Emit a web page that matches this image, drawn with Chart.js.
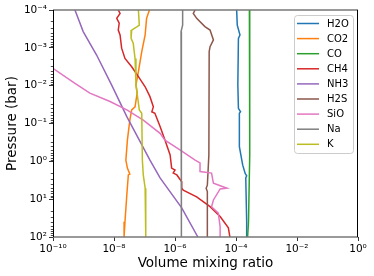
<!DOCTYPE html>
<html>
<head>
<meta charset="utf-8">
<script src="https://cdn.jsdelivr.net/npm/chart.js@4/dist/chart.umd.min.js"></script>
<style>
html,body{margin:0;padding:0;background:#fff;}
#wrap{width:374px;height:276px;position:relative;}
</style>
</head>
<body>
<div id="wrap"><canvas id="c" width="374" height="276"></canvas></div>
<script>
// ---- Data (pressure in bar, volume mixing ratio) ----
const speciesNames = ["H2O","CO2","CO","CH4","NH3","H2S","SiO","Na","K"];
const speciesColors = ["#1f77b4","#ff7f0e","#2ca02c","#d62728","#9467bd","#8c564b","#e377c2","#7f7f7f","#bcbd22"];

const h2oP = [1e-4,2.51e-4,4.57e-4,5.62e-4,9.55e-3,3.98e-2,4.90e-2,5.37e-2,0.407,0.933,1.26,2.09,2.40,2.75,39.8,100];
const h2oX = [1.05e-4,1.10e-4,1.35e-4,1.20e-4,1.15e-4,1.20e-4,1.41e-4,1.29e-4,1.29e-4,1.55e-4,1.66e-4,2.00e-4,2.24e-4,2.09e-4,2.24e-4,2.24e-4];

const co2P = [1e-4,1.66e-4,4.57e-4,1.26e-3,4.27e-3,9.55e-3,1.55e-2,3.63e-2,4.37e-2,8.13e-2,0.275,0.933,1.51,2.19,2.29,7.76,39.8,100];
const co2X = [1.45e-7,1.17e-7,1.05e-7,8.13e-8,6.31e-8,5.25e-8,5.75e-8,4.90e-8,3.80e-8,3.31e-8,2.75e-8,2.45e-8,2.75e-8,3.31e-8,2.95e-8,2.63e-8,2.29e-8,2.14e-8];

const coP = [1e-4,0.676,39.8,100];
const coX = [2.75e-4,2.82e-4,2.57e-4,2.40e-4];

const ch4P = [1e-4,1.23e-4,1.66e-4,2.24e-4,3.39e-4,4.57e-4,1.02e-3,1.91e-3,3.16e-3,5.75e-3,1.07e-2,1.95e-2,3.63e-2,4.90e-2,5.37e-2,0.120,0.275,0.676,1.51,1.70,2.04,2.29,3.47,5.13,5.75,8.71,15.8,28.8,57.5,100];
const ch4X = [1.38e-8,1.58e-8,1.23e-8,1.48e-8,1.38e-8,1.58e-8,1.78e-8,2.29e-8,3.80e-8,6.31e-8,1.05e-7,1.51e-7,1.95e-7,1.74e-7,2.19e-7,3.24e-7,4.68e-7,6.92e-7,7.76e-7,1.00e-6,8.71e-7,1.15e-6,1.66e-6,1.66e-6,1.86e-6,5.13e-6,1.41e-5,3.02e-5,5.62e-5,6.31e-5];

const nh3P = [1e-4,3.72e-4,1.55e-3,9.55e-3,6.61e-2,0.933,2.75,17.0,100];
const nh3X = [5.25e-10,9.77e-10,2.69e-9,8.32e-9,2.63e-8,1.51e-7,3.24e-7,1.66e-6,5.62e-6];

const h2sP = [1e-4,1.23e-4,1.66e-4,2.75e-4,3.39e-4,6.17e-4,9.33e-4,1.26e-3,0.676,4.27,5.13,6.31,100];
const h2sX = [4.57e-6,3.98e-6,5.13e-6,9.55e-6,1.41e-5,1.82e-5,1.41e-5,1.32e-5,1.29e-5,1.15e-5,1.05e-5,1.15e-5,1.15e-5];

const sioP = [3.2e-3,8.71e-3,1.58e-2,2.63e-2,4.37e-2,8.13e-2,0.182,0.275,0.501,0.933,1.10,1.86,2.04,3.80,5.13,5.37,10.5,15.8,23.4,53.7,100];
const sioX = [8.5e-11,5.25e-10,1.62e-9,7.41e-9,2.63e-8,9.12e-8,3.24e-7,4.68e-7,1.45e-6,4.57e-6,6.61e-6,6.61e-6,1.58e-5,1.82e-5,5.01e-5,3.02e-5,1.82e-5,1.58e-5,2.63e-5,3.02e-5,3.02e-5];

const naP = [1e-4,2.51e-4,3.72e-4,100];
const naX = [1.78e-6,1.78e-6,1.58e-6,1.62e-6];

const kP = [1e-4,2.51e-4,2.75e-4,3.39e-4,5.62e-4,7.59e-4,1.91e-3,9.55e-3,4.37e-2,5.37e-2,0.933,2.29,5.13,100];
const kX = [6.31e-8,6.76e-8,5.75e-8,3.80e-8,3.63e-8,4.27e-8,4.90e-8,5.25e-8,6.76e-8,8.13e-8,8.51e-8,9.12e-8,1.05e-7,1.10e-7];

const xTicks = [1e-10,1e-8,1e-6,1e-4,1e-2,1];
const xTickLabels = ["10\u207B\u00B9\u2070","10\u207B\u2078","10\u207B\u2076","10\u207B\u2074","10\u207B\u00B2","10\u2070"];
const yTicks = [1e-4,1e-3,1e-2,1e-1,1,10,100];
const yTickLabels = ["10\u207B\u2074","10\u207B\u00B3","10\u207B\u00B2","10\u207B\u00B9","10\u2070","10\u00B9","10\u00B2"];

const seriesP = [h2oP,co2P,coP,ch4P,nh3P,h2sP,sioP,naP,kP];
const seriesX = [h2oX,co2X,coX,ch4X,nh3X,h2sX,sioX,naX,kX];

const FONT = "'DejaVu Sans', sans-serif";

const datasets = speciesNames.map((name,i)=>({
  label: name,
  data: seriesP[i].map((p,j)=>({x: seriesX[i][j], y: p})),
  borderColor: speciesColors[i],
  backgroundColor: speciesColors[i],
  borderWidth: 1.5,
  pointRadius: 0,
  showLine: true,
  tension: 0,
  order: speciesNames.length - i
}));

const framePlugin = {
  id: 'frame',
  afterDatasetsDraw(chart){
    const {ctx, chartArea:a} = chart;
    const ys = chart.scales.y;
    ctx.save();
    // minor ticks on y axis
    ctx.strokeStyle = '#000';
    ctx.lineWidth = 0.7;
    for (let k=0;k<yTicks.length-1;k++){
      for (let m=2;m<=9;m++){
        const py = Math.round(ys.getPixelForValue(yTicks[k]*m))+0.5;
        ctx.beginPath(); ctx.moveTo(a.left-2.2, py); ctx.lineTo(a.left, py); ctx.stroke();
      }
    }
    // spines
    ctx.strokeStyle = '#777';
    ctx.lineWidth = 1.6;
    ctx.beginPath(); ctx.moveTo(a.left, a.top); ctx.lineTo(a.right, a.top); ctx.stroke();
    ctx.beginPath(); ctx.moveTo(a.left, a.bottom); ctx.lineTo(a.right, a.bottom); ctx.stroke();
    ctx.strokeStyle = '#000';
    ctx.lineWidth = 1;
    ctx.beginPath(); ctx.moveTo(a.left+0.5, a.top); ctx.lineTo(a.left+0.5, a.bottom); ctx.stroke();
    ctx.beginPath(); ctx.moveTo(a.right-0.5, a.top); ctx.lineTo(a.right-0.5, a.bottom); ctx.stroke();
    // legend
    const w = 59, h = 138;
    const bx = a.right - 5 - w, by = a.top + 5;
    ctx.fillStyle = 'rgba(255,255,255,0.85)';
    ctx.strokeStyle = '#cccccc';
    ctx.lineWidth = 1;
    ctx.beginPath();
    ctx.roundRect(bx+0.5, by+0.5, w, h, 3);
    ctx.fill(); ctx.stroke();
    ctx.font = "10px " + FONT;
    ctx.textBaseline = 'middle';
    ctx.textAlign = 'left';
    chart.data.datasets.forEach((ds,i)=>{
      const yy = by + 8.5 + i*15.1;
      ctx.strokeStyle = ds.borderColor;
      ctx.lineWidth = 1.5;
      ctx.beginPath(); ctx.moveTo(bx+3, yy); ctx.lineTo(bx+25, yy); ctx.stroke();
      ctx.fillStyle = '#000';
      ctx.fillText(ds.label, bx+33, yy+0.5);
    });
    ctx.restore();
  }
};

new Chart(document.getElementById('c'), {
  type: 'scatter',
  data: { datasets },
  options: {
    responsive: false,
    animation: false,
    events: [],
    layout: { padding: { left: 0, right: 16, top: 10, bottom: 0 } },
    plugins: { legend: { display: false }, tooltip: { enabled: false } },
    scales: {
      x: {
        type: 'logarithmic',
        min: 1e-10, max: 1,
        afterBuildTicks: (s)=>{ s.ticks = xTicks.map(v=>({value:v})); },
        afterFit: (s)=>{ s.height = 39; },
        ticks: {
          autoSkip: false, maxRotation: 0,
          color: '#000', padding: 2,
          font: { family: FONT, size: 10.5 },
          callback: (v)=>{ const i = xTicks.findIndex(t=>Math.abs(Math.log10(t)-Math.log10(v))<1e-6); return i>=0 ? xTickLabels[i] : ''; }
        },
        grid: { drawOnChartArea: false, tickLength: 4, color: '#000', tickWidth: 0.8 },
        border: { display: false },
        title: { display: true, text: 'Volume mixing ratio', color: '#000', font: { family: FONT, size: 13.5 }, padding: { top: 0, bottom: 4 } }
      },
      y: {
        type: 'logarithmic',
        reverse: true,
        min: 1e-4, max: 100,
        afterBuildTicks: (s)=>{ s.ticks = yTicks.map(v=>({value:v})); },
        afterFit: (s)=>{ s.width = 53; },
        ticks: {
          autoSkip: false,
          color: '#000', padding: 2,
          font: { family: FONT, size: 10.5 },
          callback: (v)=>{ const i = yTicks.findIndex(t=>Math.abs(Math.log10(t)-Math.log10(v))<1e-6); return i>=0 ? yTickLabels[i] : ''; }
        },
        grid: { drawOnChartArea: false, tickLength: 4, color: '#000', tickWidth: 0.8 },
        border: { display: false },
        title: { display: true, text: 'Pressure (bar)', color: '#000', font: { family: FONT, size: 13.5 }, padding: { top: 4, bottom: 0 } }
      }
    }
  },
  plugins: [framePlugin]
});
</script>
</body>
</html>
